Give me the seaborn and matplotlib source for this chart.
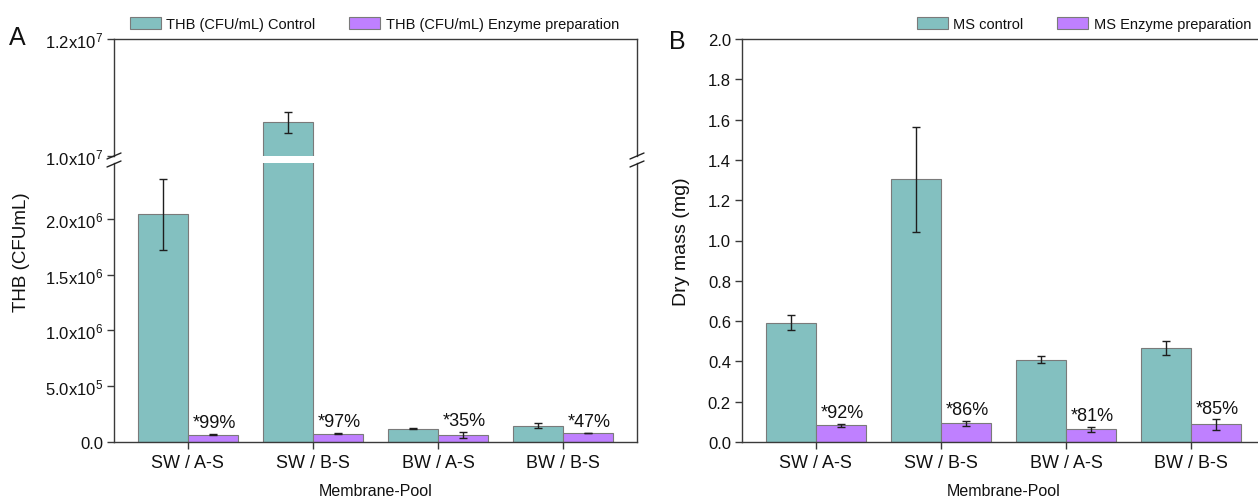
import numpy as np
import pandas as pd
import matplotlib
matplotlib.use("Agg")
import matplotlib.pyplot as plt
import seaborn as sns
from matplotlib.lines import Line2D

# ---- data ----
pools = ["SW / A-S", "SW / B-S", "BW / A-S", "BW / B-S"]

thb_control = [2.04e6, 1.058e7, 1.17e5, 1.46e5]
thb_control_err = [3.2e5, 1.8e5, 4e3, 2.2e4]
thb_enzyme = [6.7e4, 7.6e4, 6.3e4, 8.1e4]
thb_enzyme_err = [6e3, 6e3, 2.6e4, 4e3]
thb_reduction = ["*99%", "*97%", "*35%", "*47%"]
thb_names = ["THB (CFU/mL) Control", "THB (CFU/mL) Enzyme preparation"]

ms_control = [0.591, 1.304, 0.409, 0.467]
ms_control_err = [0.037, 0.26, 0.017, 0.033]
ms_enzyme = [0.0825, 0.092, 0.063, 0.087]
ms_enzyme_err = [0.007, 0.012, 0.011, 0.025]
ms_reduction = ["*92%", "*86%", "*81%", "*85%"]
ms_names = ["MS control", "MS Enzyme preparation"]

thb_low_ticks = [0, 5e5, 1e6, 1.5e6, 2e6]
thb_low_labels = ["0.0", "5.0x10$^{5}$", "1.0x10$^{6}$", "1.5x10$^{6}$", "2.0x10$^{6}$"]
thb_up_ticks = [1.0e7, 1.2e7]
thb_up_labels = ["1.0x10$^{7}$", "1.2x10$^{7}$"]

teal = "#83C0C0"
purple = "#BF80FF"
edge = "#7a7a7a"
axcol = "#3a3a3a"

sns.set_style("ticks")
plt.rcParams["font.family"] = ["Liberation Sans", "DejaVu Sans"]
plt.rcParams["mathtext.fontset"] = "custom"
plt.rcParams["mathtext.rm"] = "Liberation Sans"
plt.rcParams["mathtext.default"] = "regular"
plt.rcParams["axes.edgecolor"] = axcol
plt.rcParams["axes.linewidth"] = 1.0
plt.rcParams["xtick.color"] = axcol
plt.rcParams["ytick.color"] = axcol
plt.rcParams["xtick.labelcolor"] = "#111111"
plt.rcParams["ytick.labelcolor"] = "#111111"
plt.rcParams["text.color"] = "#111111"
plt.rcParams["axes.labelcolor"] = "#111111"

W, H = 1258, 502
fig = plt.figure(figsize=(W / 100, H / 100), dpi=100)


def frame(x0, y_top, x1, y_bot):
    # pixel box -> figure fraction axes
    return fig.add_axes([x0 / W, 1 - y_bot / H, (x1 - x0) / W, (y_bot - y_top) / H])


def long_df(ctrl, enz, names):
    return pd.DataFrame({
        "pool": pools * 2,
        "value": list(ctrl) + list(enz),
        "series": [names[0]] * len(pools) + [names[1]] * len(pools),
    })


def bars(ax, df, names, errs, legend=False):
    sns.barplot(data=df, x="pool", y="value", hue="series", order=pools,
                hue_order=names, palette=[teal, purple], saturation=1, errorbar=None,
                edgecolor=edge, linewidth=0.8, ax=ax, legend=legend)
    for cont, vals, err in zip(ax.containers, [df.value[:4], df.value[4:]], errs):
        xs = [p.get_x() + p.get_width() / 2 for p in cont]
        ax.errorbar(xs, list(vals), yerr=err, fmt="none", ecolor="#1e1e1e",
                    elinewidth=1.0, capsize=3, capthick=1.0)
    ax.set_xlabel("")
    ax.set_ylabel("")
    return ax


def label_pct(ax, df, errs, texts):
    cont = ax.containers[1]
    for p, v, e, t in zip(cont, df.value[4:], errs, texts):
        ax.annotate(t, xy=(p.get_x() + p.get_width() / 2, v + e), xytext=(1, 8),
                    textcoords="offset points", ha="center", va="center", fontsize=13)


# ---- panel A: broken axis ----
thb = long_df(thb_control, thb_enzyme, thb_names)
ax_up = frame(114, 40, 637, 157)
ax_lo = frame(114, 164, 637, 443)

bars(ax_up, thb, thb_names, [thb_control_err, thb_enzyme_err], legend=True)
bars(ax_lo, thb, thb_names, [thb_control_err, thb_enzyme_err])
label_pct(ax_lo, thb, thb_enzyme_err, thb_reduction)

ax_up.set_ylim(1.0e7, 1.2e7)
ax_lo.set_ylim(0, 2.5e6)
ax_up.set_yticks(thb_up_ticks, thb_up_labels)
ax_lo.set_yticks(thb_low_ticks, thb_low_labels)
ax_up.spines["bottom"].set_visible(False)
ax_lo.spines["top"].set_visible(False)
ax_up.tick_params(axis="x", bottom=False, labelbottom=False)

ax_lo.set_xlabel("Membrane-Pool", fontsize=11.5)
ax_lo.xaxis.set_label_coords(0.5, -0.147)
ax_lo.set_ylabel("THB (CFUmL)", fontsize=13.5)
ax_lo.yaxis.set_label_coords(-0.16, 0.684)

# break marks
for xpix in (114, 637):
    for ypix in (157, 165):
        fig.add_artist(Line2D([(xpix - 7) / W, (xpix + 7) / W],
                              [1 - (ypix + 3) / H, 1 - (ypix - 3) / H],
                              color="#222222", lw=1.0, transform=fig.transFigure))

leg = ax_up.get_legend()
handles = leg.legend_handles
labels = [t.get_text() for t in leg.get_texts()]
leg.remove()
fig.legend(handles, labels, loc="center left", bbox_to_anchor=(130 / W, 1 - 25 / H),
           bbox_transform=fig.transFigure, ncol=2, frameon=False, fontsize=10.5,
           handlelength=2.1, handleheight=0.9, handletextpad=0.4, columnspacing=2.3,
           borderpad=0, borderaxespad=0)

# ---- panel B ----
ms = long_df(ms_control, ms_enzyme, ms_names)
ax_b = frame(742, 40, 1265, 443)
bars(ax_b, ms, ms_names, [ms_control_err, ms_enzyme_err], legend=True)
label_pct(ax_b, ms, ms_enzyme_err, ms_reduction)
ax_b.set_ylim(0, 2.0)
ax_b.set_yticks(np.arange(0, 2.01, 0.2))
ax_b.yaxis.set_major_formatter(matplotlib.ticker.FormatStrFormatter("%.1f"))
ax_b.set_xlabel("Membrane-Pool", fontsize=11.5)
ax_b.xaxis.set_label_coords(0.5, -0.102)
ax_b.set_ylabel("Dry mass (mg)", fontsize=14)
ax_b.yaxis.set_label_coords(-0.1, 0.5)

leg = ax_b.get_legend()
handles = leg.legend_handles
labels = [t.get_text() for t in leg.get_texts()]
leg.remove()
fig.legend(handles, labels, loc="center left", bbox_to_anchor=(917 / W, 1 - 25 / H),
           bbox_transform=fig.transFigure, ncol=2, frameon=False, fontsize=10.5,
           handlelength=2.1, handleheight=0.9, handletextpad=0.4, columnspacing=2.3,
           borderpad=0, borderaxespad=0)

for ax in (ax_up, ax_lo, ax_b):
    ax.tick_params(axis="y", direction="out", length=5, width=1.0, pad=3, labelsize=12)
    ax.tick_params(axis="x", direction="out", length=5, width=1.0, pad=4, labelsize=13)

fig.text(17 / W, 1 - 38 / H, "A", fontsize=18, ha="center", va="center")
fig.text(677 / W, 1 - 42 / H, "B", fontsize=18, ha="center", va="center")

fig.savefig("out.png", dpi=100)
